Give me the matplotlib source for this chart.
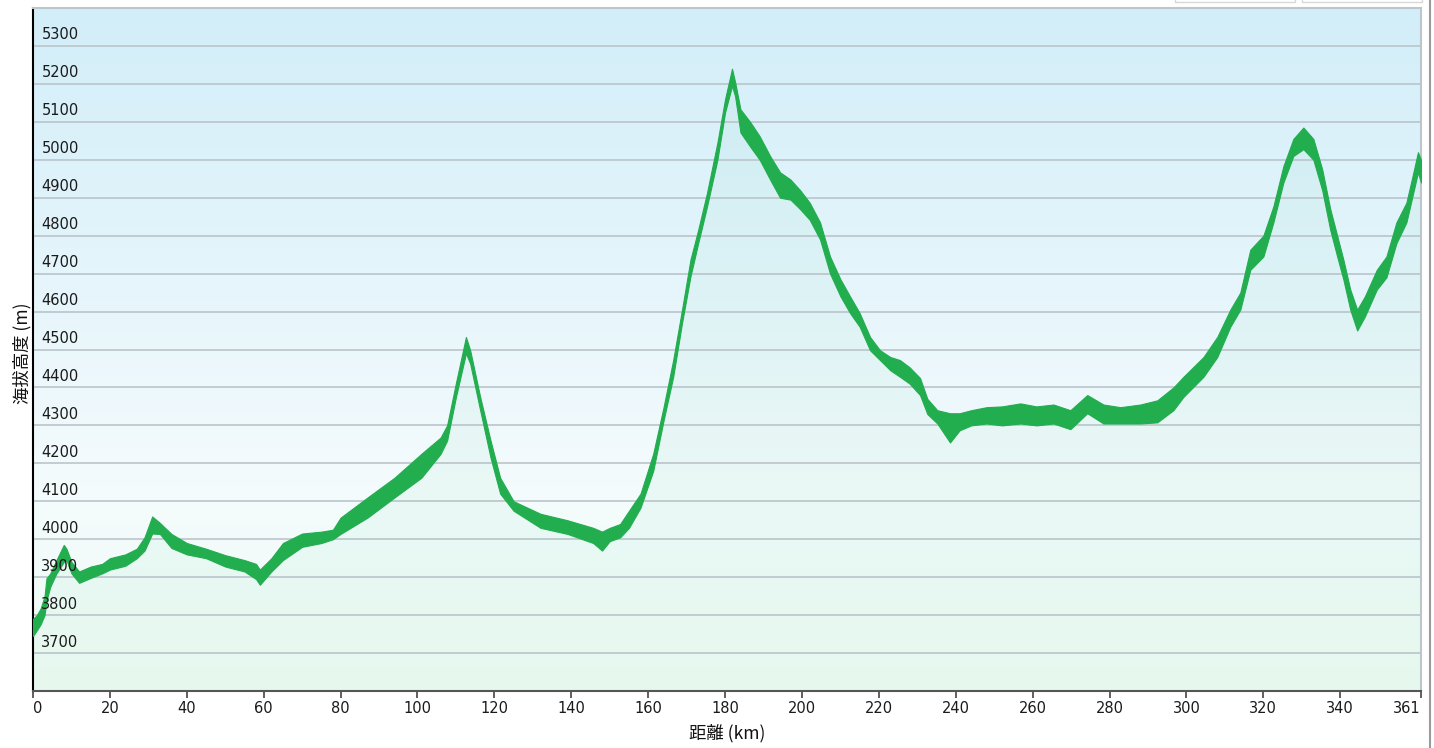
#!/usr/bin/env python

'''
plot.py: elevation profile (海拔高度 vs 距離)
'''

import numpy as np
import matplotlib
matplotlib.use('Agg')
import matplotlib.pyplot as plt
from matplotlib.patches import Rectangle
from matplotlib.lines import Line2D
from matplotlib.colors import LinearSegmentedColormap

# distance along route (km) and the low / high edge of the noisy elevation trace (m)
distance_km = [0, 1, 2, 3, 3.5, 4.5, 6, 8, 8.7, 10, 12, 15, 18, 20, 24, 27, 29, 31, 33, 36,
               40, 45, 50, 55, 58, 59, 62, 65, 70, 75, 78, 80, 87, 94, 101, 106, 107.7, 110,
               112.6, 113.7, 116.3, 119, 121.5, 125, 132, 139, 145.7, 148, 150, 152.7, 155,
               158, 161.3, 164, 166.5, 168.8, 171, 173, 175.3, 178, 180, 181.8, 182.6, 184,
               186.5, 189, 191.7, 194.3, 197, 199.5, 202, 204.7, 207.3, 210, 212.5, 215,
               217.7, 220.3, 223, 225.5, 228, 230.7, 232.6, 235.2, 238.5, 241, 244, 248, 252,
               256.8, 261, 265.4, 269.8, 274.2, 278.4, 282.8, 288, 292.4, 296.6, 299.2, 304.4,
               308, 311.4, 314, 316.6, 320, 322.6, 325.2, 327.8, 330.4, 333, 335.3, 337.4,
               339.2, 340.8, 342.6, 344.4, 346.4, 349.5, 352, 354.6, 357.2, 358.8, 360.2, 361]

elev_low = [3745, 3760, 3776, 3800, 3838, 3875, 3908, 3940, 3945, 3910, 3885, 3898, 3910, 3920,
            3930, 3950, 3970, 4015, 4014, 3977, 3960, 3950, 3928, 3915, 3895, 3880, 3915, 3945,
            3980, 3990, 4000, 4014, 4057, 4110, 4162, 4225, 4260, 4375, 4490, 4463, 4340, 4215,
            4120, 4075, 4030, 4014, 3990, 3970, 3995, 4005, 4030, 4083, 4180, 4313, 4428, 4570,
            4693, 4780, 4877, 5000, 5125, 5195, 5168, 5072, 5035, 5000, 4948, 4900, 4895, 4870,
            4842, 4790, 4700, 4640, 4596, 4560, 4498, 4472, 4445, 4428, 4410, 4380, 4330, 4305,
            4255, 4287, 4300, 4305, 4300, 4305, 4300, 4305, 4290, 4332, 4305, 4305, 4305, 4308,
            4340, 4375, 4428, 4480, 4560, 4605, 4710, 4745, 4835, 4940, 5010, 5028, 5000, 4920,
            4815, 4745, 4685, 4605, 4550, 4587, 4658, 4690, 4780, 4835, 4905, 4967, 4940]

elev_high = [3790, 3800, 3818, 3850, 3897, 3910, 3943, 3985, 3975, 3940, 3915, 3928, 3935, 3950,
             3960, 3975, 4005, 4060, 4043, 4014, 3990, 3975, 3958, 3945, 3935, 3920, 3950, 3990,
             4015, 4020, 4025, 4057, 4110, 4162, 4225, 4268, 4300, 4412, 4533, 4498, 4375, 4260,
             4162, 4100, 4067, 4050, 4030, 4020, 4030, 4040, 4075, 4120, 4225, 4348, 4472, 4605,
             4737, 4815, 4913, 5045, 5160, 5240, 5205, 5133, 5100, 5062, 5010, 4967, 4948, 4920,
             4887, 4835, 4745, 4685, 4640, 4596, 4533, 4498, 4480, 4472, 4453, 4425, 4370, 4340,
             4332, 4332, 4340, 4348, 4350, 4358, 4350, 4355, 4340, 4380, 4355, 4348, 4355, 4366,
             4400, 4428, 4480, 4533, 4605, 4650, 4763, 4800, 4877, 4983, 5055, 5085, 5055, 4975,
             4870, 4800, 4737, 4658, 4605, 4640, 4710, 4745, 4835, 4887, 4957, 5020, 5000]

ytick_values = [3700, 3800, 3900, 4000, 4100, 4200, 4300, 4400, 4500, 4600, 4700, 4800, 4900,
                5000, 5100, 5200, 5300]
xtick_values = [0, 20, 40, 60, 80, 100, 120, 140, 160, 180, 200, 220, 240, 260, 280, 300, 320,
                340, 361]

xlabel = '距離 (km)'
ylabel = '海拔高度 (m)'


def main():

    W, H = 1434, 748
    fig = plt.figure(figsize=(W / 100, H / 100), dpi=100)
    fig.patch.set_facecolor('white')

    left, right, top, bottom = 33, 1421, 8, 691
    ax = fig.add_axes([left / W, 1 - bottom / H, (right - left) / W, (bottom - top) / H])

    ymin, ymax = 3600, 5400
    xmin, xmax = 0, 361

    x = np.array(distance_km)
    lo = np.array(elev_low)
    hi = np.array(elev_high)

    # background gradient: light blue at top -> near white -> light mint at bottom
    bg = LinearSegmentedColormap.from_list(
        'bg', [(0.0, '#effcf4'), (0.30, '#f4fbfd'), (1.0, '#d2eef9')])
    grad = np.linspace(0, 1, 256).reshape(-1, 1)
    ax.imshow(grad, cmap=bg, origin='lower', aspect='auto',
              extent=(xmin, xmax, ymin, ymax), zorder=0)

    # area under the profile
    ax.fill_between(x, ymin, (lo + hi) / 2, color='#20c070', alpha=0.045, lw=0, zorder=1)

    # grid
    for v in ytick_values:
        ax.axhline(v, color='#bac4ca', lw=1.2, zorder=2)

    # the noisy trace, drawn as its band
    green = '#22ad4f'
    ax.fill_between(x, lo, hi, color=green, lw=0.8, edgecolor=green, zorder=3)

    ax.set_xlim(xmin, xmax)
    ax.set_ylim(ymin, ymax)

    # y labels sit inside the plot, just above each grid line
    for v in ytick_values:
        ax.annotate(str(v), xy=(0, v), xycoords=('axes fraction', 'data'),
                    xytext=(6, 2.5), textcoords='offset points', ha='left', va='bottom',
                    fontsize=10.5, color='#1a1a1a', zorder=4)
    ax.set_yticks([])

    ax.set_xticks(xtick_values)
    ax.set_xticklabels([str(v) for v in xtick_values], fontsize=10.5, color='#1a1a1a')
    ax.tick_params(axis='x', direction='out', length=5, width=1.2, color='#444444', pad=2.5)
    tl = ax.get_xticklabels()
    tl[0].set_horizontalalignment('left')
    tl[-1].set_horizontalalignment('right')

    ax.spines['left'].set_color('black')
    ax.spines['left'].set_linewidth(1.5)
    ax.spines['bottom'].set_color('#555555')
    ax.spines['bottom'].set_linewidth(1.5)
    ax.spines['top'].set_color('#bcc6cc')
    ax.spines['top'].set_linewidth(1.5)
    ax.spines['right'].set_color('#bcc6cc')
    ax.spines['right'].set_linewidth(1.5)

    cjk = ['Noto Sans CJK JP', 'DejaVu Sans']
    fig.text((left + right) / 2 / W, 1 - 733 / H, xlabel, ha='center', va='center',
             fontsize=12.5, family=cjk, color='#111111')
    fig.text(22 / W, 1 - 353 / H, ylabel, ha='center', va='center', rotation=90,
             fontsize=12.5, family=cjk, color='#111111')

    # bits of the surrounding page: two buttons at the top edge and a frame line on the right
    for bx in (1175, 1302):
        fig.patches.append(Rectangle((bx / W, 1 - 2 / H), 120 / W, 10 / H,
                                     transform=fig.transFigure, facecolor='white',
                                     edgecolor='#d8d8d8', lw=1.0))
    fig.lines.append(Line2D([1429.5 / W, 1429.5 / W], [0, 1], transform=fig.transFigure,
                            color='#9a9a9a', lw=1.5))

    fig.savefig('out.png', dpi=100)
    plt.close()


if __name__ == '__main__':
    main()
